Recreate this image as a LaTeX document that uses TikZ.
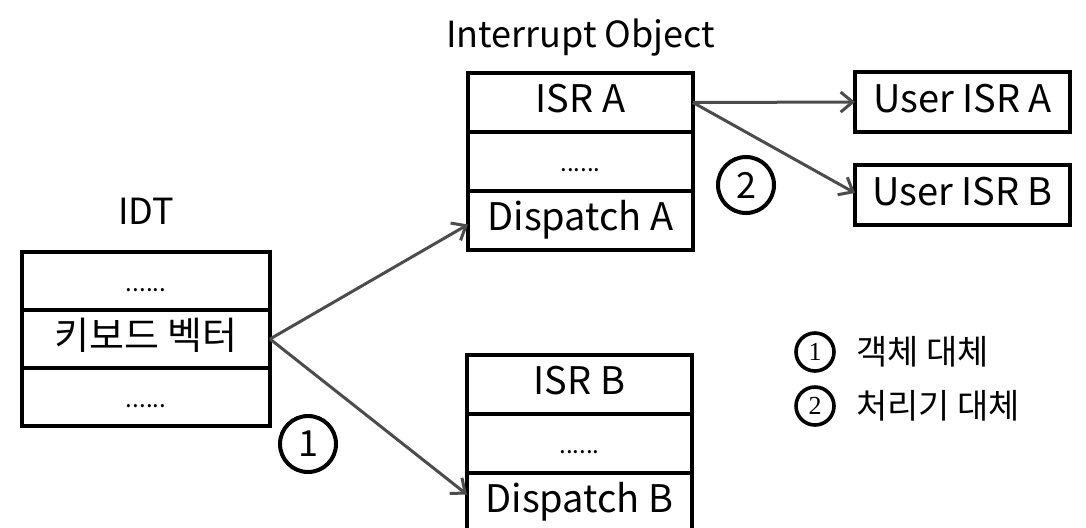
\documentclass[tikz,border=0pt]{standalone}
\usepackage{fontspec}
\setmainfont{Noto Sans CJK KR}
\newfontfamily\legendnum{Liberation Serif}
\usetikzlibrary{positioning,arrows.meta}

\begin{document}
\begin{tikzpicture}[
		x=0.5pt, y=-0.5pt,
		cell/.style={draw, line width=2.4pt, inner sep=0pt, outer sep=0pt,
				text height=14pt, text depth=4pt,
				font=\fontsize{19}{21}\selectfont},
		idtcell/.style={cell, minimum width=124pt, minimum height=29pt},
		objcell/.style={cell, minimum width=112.5pt, minimum height=29.5pt},
		usercell/.style={cell, minimum width=107.5pt, minimum height=30pt},
		dots/.style={font=\fontsize{12}{14}\selectfont},
		title/.style={font=\fontsize{18}{20}\selectfont},
		link/.style={draw=black!70, line width=1.5pt,
				-{Straight Barb[length=6pt,width=10pt]}},
		num/.style={circle, draw, line width=2pt, minimum size=28pt,
				inner sep=0pt, font=\fontsize{18}{20}\selectfont},
		keynum/.style={circle, draw, line width=1.8pt, minimum size=19pt,
				inner sep=0pt, font=\legendnum\fontsize{13}{15}\selectfont},
		keytext/.style={font=\fontsize{17}{19}\selectfont, inner sep=0pt}
	]
	\useasboundingbox (0,0) rectangle (1086,527);

	% IDT table
	\node[idtcell, dots] (idt1) at (146,281) {......};
	\node[idtcell] (idt2) [below=0pt of idt1] {키보드 벡터};
	\node[idtcell, dots] (idt3) [below=0pt of idt2] {......};
	\node[title] (idtlabel) [above=10pt of idt1] {IDT};

	% interrupt objects
	\node[objcell] (isrA) at (580.5,102.5) {ISR A};
	\node[objcell, dots] (midA) [below=0pt of isrA] {......};
	\node[objcell] (dispA) [below=0pt of midA] {Dispatch A};
	\node[title] (objlabel) [above=5pt of isrA] {Interrupt Object};

	\node[objcell] (isrB) at (579.5,384.5) {ISR B};
	\node[objcell, dots] (midB) [below=0pt of isrB] {......};
	\node[objcell] (dispB) [below=0pt of midB] {Dispatch B};

	% user routines
	\node[usercell] (userA) at (962.5,102) {User ISR A};
	\node[usercell] (userB) at (962.5,195) {User ISR B};

	% arrows
	\draw[link] (idt2.east) -- ([yshift=-2pt]dispA.west);
	\draw[link] (idt2.east) -- ([yshift=4pt]dispB.west);
	\draw[link] (isrA.east) -- (userA.west);
	\draw[link] (isrA.east) -- ([yshift=1pt]userB.west);

	\node[num] (n1) at (308,444) {1};
	\node[num] (n2) at (746,185) {2};

	% legend
	\node[keynum] (key1) at (815,352) {1};
	\node[keytext, anchor=west] (key1text) [right=10pt of key1] {객체 대체};
	\node[keynum] (key2) at (815,406) {2};
	\node[keytext, anchor=west] (key2text) [right=10pt of key2] {처리기 대체};
\end{tikzpicture}
\end{document}
